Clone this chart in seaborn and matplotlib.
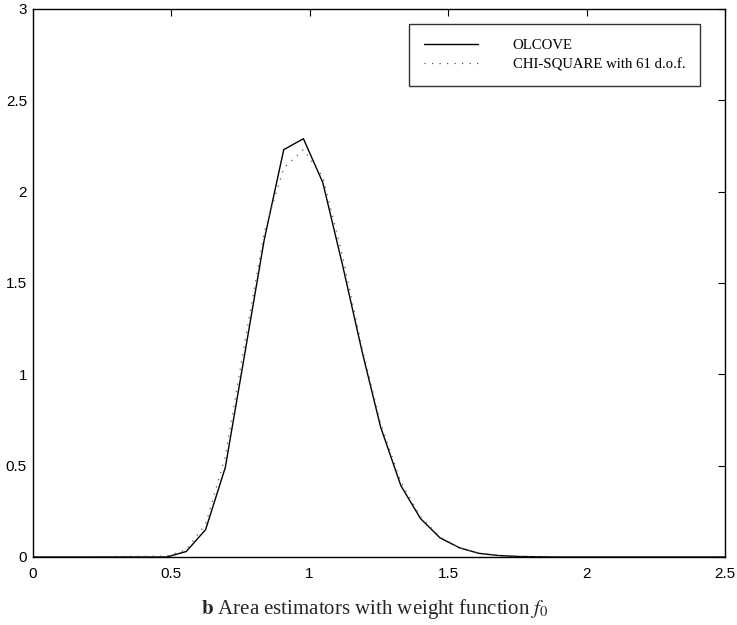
import numpy as np
import pandas as pd
import matplotlib
matplotlib.use("Agg")
import matplotlib.pyplot as plt
import seaborn as sns

# Data
x_vals = [0.0, 0.484, 0.555, 0.625, 0.696, 0.766, 0.837, 0.907, 0.978, 1.048,
          1.119, 1.189, 1.257, 1.330, 1.401, 1.471, 1.542, 1.612, 1.683, 1.753,
          1.824, 1.894, 2.5]
olcove = [0.0, 0.0, 0.03, 0.15, 0.49, 1.11, 1.74, 2.23, 2.29, 2.05,
          1.60, 1.13, 0.71, 0.39, 0.21, 0.105, 0.05, 0.02, 0.008, 0.003,
          0.001, 0.0, 0.0]
chi_square = [0.0, 0.005, 0.04, 0.18, 0.55, 1.17, 1.78, 2.13, 2.23, 2.08,
              1.65, 1.15, 0.73, 0.41, 0.22, 0.11, 0.05, 0.02, 0.008, 0.003,
              0.001, 0.0, 0.0]
series_labels = ["OLCOVE", "CHI-SQUARE with 61 d.o.f."]
x_ticks = [0, 0.5, 1, 1.5, 2, 2.5]
x_ticklabels = ["0", "0.5", "1", "1.5", "2", "2.5"]
y_ticks = [0, 0.5, 1, 1.5, 2, 2.5, 3]
y_ticklabels = ["0", "0.5", "1", "1.5", "2", "2.5", "3"]
caption = r"$\mathbf{b}$ Area estimators with weight function $f_0$"

sns.set_style("white")
plt.rcParams["font.family"] = ["Liberation Sans", "DejaVu Sans"]
plt.rcParams["mathtext.fontset"] = "stix"

fig = plt.figure(figsize=(7.37, 6.25), dpi=100)
ax = fig.add_axes([32.5 / 737, 1 - 557 / 625, (725 - 32.5) / 737, (557 - 9) / 625])

df = pd.DataFrame({"x": x_vals, "olc": olcove, "chi": chi_square})
sns.lineplot(data=df, x="x", y="olc", ax=ax, color="black", linewidth=1.0,
             label=series_labels[0], estimator=None, sort=False)
sns.lineplot(data=df, x="x", y="chi", ax=ax, color="#555555", linewidth=0.9,
             label=series_labels[1], estimator=None, sort=False,
             dashes=False)
ax.lines[1].set_linestyle((0, (1, 5)))

ax.set_xlim(0, 2.5)
ax.set_ylim(0, 3)
ax.set_xticks(x_ticks)
ax.set_xticklabels(x_ticklabels)
ax.set_yticks(y_ticks)
ax.set_yticklabels(y_ticklabels)
ax.set_xlabel("")
ax.set_ylabel("")
ax.tick_params(direction="in", length=5, width=0.8, top=True, right=True,
               labelsize=11, colors="black")
ax.tick_params(axis="x", pad=7)
ax.tick_params(axis="y", pad=4)
for s in ax.spines.values():
    s.set_visible(True)
    s.set_color("black")
    s.set_linewidth(1.0)

leg = ax.legend(loc="upper left", bbox_to_anchor=(409 / 737, 1 - 24 / 625),
                bbox_transform=fig.transFigure, frameon=True, fancybox=False,
                edgecolor="black", handlelength=3.7, handletextpad=2.35,
                borderpad=1.0, labelspacing=0.42, borderaxespad=0,
                prop={"family": "Liberation Serif", "size": 10.6})
leg.get_frame().set_linewidth(1.0)
leg.get_frame().set_facecolor("white")
for t in leg.get_texts():
    t.set_color("black")

fig.text(0.508, 0.026, caption, ha="center", va="center",
         fontsize=15, family="Liberation Serif")

fig.savefig("out.png", dpi=100, facecolor="white")
